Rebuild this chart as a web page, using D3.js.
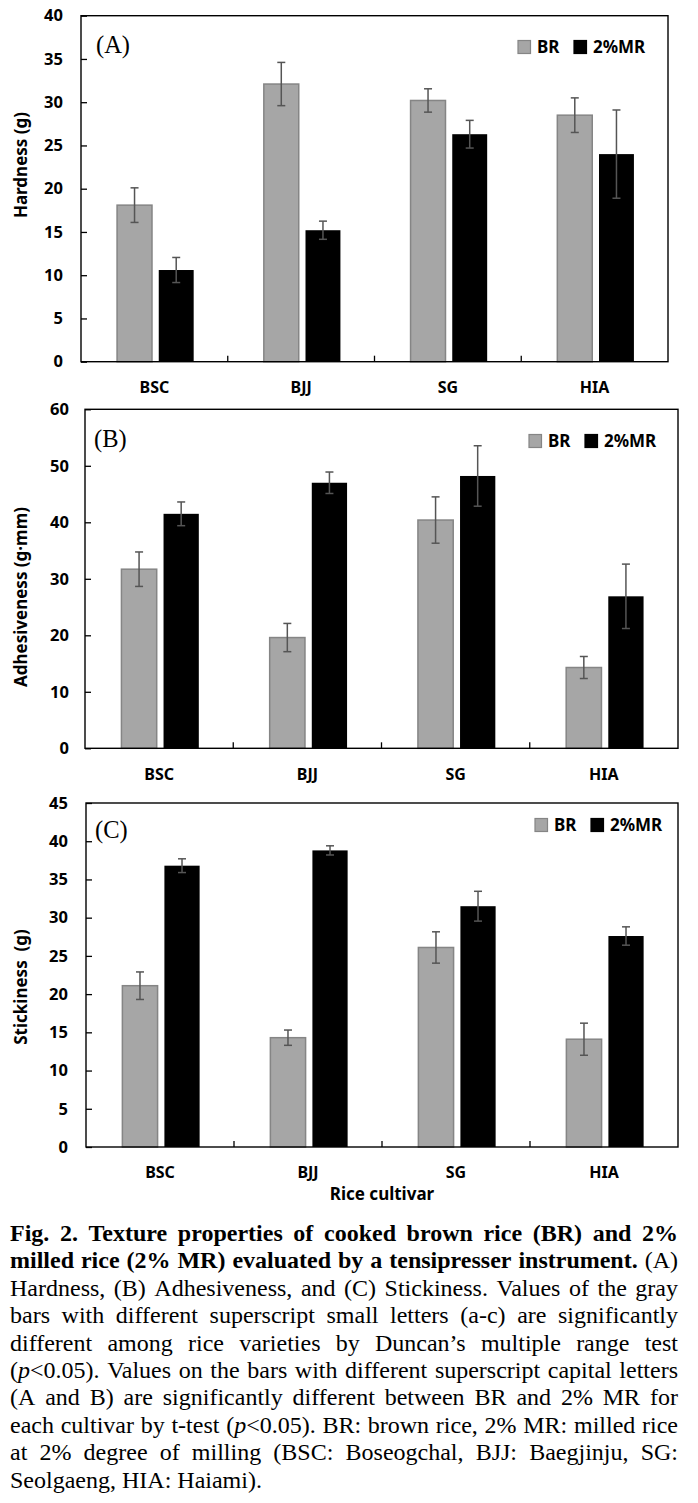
<!DOCTYPE html>
<html>
<head>
<meta charset="utf-8">
<script src="https://cdn.jsdelivr.net/npm/d3@7/dist/d3.min.js"></script>
<style>
  html, body { margin: 0; padding: 0; background: #fff; }
  svg { display: block; }
</style>
</head>
<body>
<svg id="chart" width="698" height="1503"></svg>
<script>
// ---------------- DATA ----------------
const categories = ["BSC", "BJJ", "SG", "HIA"];
const seriesNames = ["BR", "2%MR"];

const hardnessBR     = [18.1, 32.1, 30.2, 28.5];
const hardnessBRErr  = [2.0, 2.5, 1.35, 2.0];
const hardnessMR     = [10.6, 15.2, 26.3, 24.0];
const hardnessMRErr  = [1.45, 1.05, 1.6, 5.1];
const hardnessTicks  = [0, 5, 10, 15, 20, 25, 30, 35, 40];

const adhesBR        = [31.7, 19.6, 40.4, 14.3];
const adhesBRErr     = [3.05, 2.5, 4.1, 1.95];
const adhesMR        = [41.5, 47.0, 48.2, 26.9];
const adhesMRErr     = [2.1, 1.9, 5.35, 5.7];
const adhesTicks     = [0, 10, 20, 30, 40, 50, 60];

const stickBR        = [21.1, 14.3, 26.1, 14.1];
const stickBRErr     = [1.8, 1.0, 2.05, 2.1];
const stickMR        = [36.8, 38.8, 31.5, 27.6];
const stickMRErr     = [0.9, 0.6, 1.95, 1.2];
const stickTicks     = [0, 5, 10, 15, 20, 25, 30, 35, 40, 45];

const panelLetters = ["(A)", "(B)", "(C)"];
const yTitles = ["Hardness (g)", "Adhesiveness (g\u00B7mm)", "Stickiness  (g)"];
const xTitle = "Rice cultivar";

const captionLines = [
  "**Fig. 2. Texture properties of cooked brown rice (BR) and 2%**",
  "**milled rice (2% MR) evaluated by a tensipresser instrument.** (A)",
  "Hardness, (B) Adhesiveness, and (C) Stickiness. Values of the gray",
  "bars with different superscript small letters (a-c) are significantly",
  "different among rice varieties by Duncan\u2019s multiple range test",
  "(_p_<0.05). Values on the bars with different superscript capital letters",
  "(A and B) are significantly different between BR and 2% MR for",
  "each cultivar by t-test (_p_<0.05). BR: brown rice, 2% MR: milled rice",
  "at 2% degree of milling (BSC: Boseogchal, BJJ: Baegjinju, SG:",
  "Seolgaeng, HIA: Haiami)."
];

// ---------------- LAYOUT ----------------
const svg = d3.select("#chart");
svg.append("rect").attr("width", 698).attr("height", 1503).attr("fill", "#fff");

const SANS = "'Noto Sans', 'Open Sans', Arial, sans-serif";
const SERIF = "'Liberation Serif', 'Times New Roman', serif";
const BR_FILL = "#a6a6a6", BR_STROKE = "#858585", MR_FILL = "#000", ERR = "#555";

const panels = [
  { left: 81, right: 668, top: 15.7, bottom: 361.7, max: 40, ticks: hardnessTicks,
    br: hardnessBR, brErr: hardnessBRErr, mr: hardnessMR, mrErr: hardnessMRErr,
    tickPad: 18, titleY: 165, legendEnd: 650, legendY: 47, letterX: 96, letterY: 53 },
  { left: 85, right: 678, top: 409.3, bottom: 748.3, max: 60, ticks: adhesTicks,
    br: adhesBR, brErr: adhesBRErr, mr: adhesMR, mrErr: adhesMRErr,
    tickPad: 16, titleY: 597, legendEnd: 661, legendY: 441, letterX: 94, letterY: 447 },
  { left: 86, right: 678, top: 803, bottom: 1147, max: 45, ticks: stickTicks,
    br: stickBR, brErr: stickBRErr, mr: stickMR, mrErr: stickMRErr,
    tickPad: 18, titleY: 987, legendEnd: 667, legendY: 825, letterX: 95, letterY: 838 }
];

panels.forEach((p, i) => {
  const g = svg.append("g");
  const x = d3.scaleBand().domain(categories).range([p.left, p.right]);
  const y = d3.scaleLinear().domain([0, p.max]).range([p.bottom, p.top]);
  const band = x.bandwidth();
  const barW = band * 0.238;
  const gap = band * 0.046;

  // bars
  const rows = categories.map((c, k) => ({ c, br: p.br[k], brE: p.brErr[k], mr: p.mr[k], mrE: p.mrErr[k] }));
  const brX = d => x(d.c) + band / 2 + 1 - gap / 2 - barW;
  const mrX = d => x(d.c) + band / 2 + 1 + gap / 2;

  g.selectAll(".br").data(rows).join("rect")
    .attr("x", brX).attr("width", barW)
    .attr("y", d => y(d.br)).attr("height", d => y(0) - y(d.br))
    .attr("fill", BR_FILL).attr("stroke", BR_STROKE).attr("stroke-width", 1.5);
  g.selectAll(".mr").data(rows).join("rect")
    .attr("x", mrX).attr("width", barW)
    .attr("y", d => y(d.mr)).attr("height", d => y(0) - y(d.mr))
    .attr("fill", MR_FILL);

  // error bars
  const errs = [];
  rows.forEach(d => {
    errs.push({ cx: brX(d) + barW / 2, v: d.br, e: d.brE });
    errs.push({ cx: mrX(d) + barW / 2, v: d.mr, e: d.mrE });
  });
  const eg = g.selectAll(".err").data(errs).join("g")
    .attr("stroke", ERR).attr("stroke-width", 1.5).attr("fill", "none");
  eg.append("line").attr("x1", d => d.cx).attr("x2", d => d.cx)
    .attr("y1", d => y(d.v + d.e)).attr("y2", d => y(d.v - d.e));
  eg.append("line").attr("x1", d => d.cx - 4).attr("x2", d => d.cx + 4)
    .attr("y1", d => y(d.v + d.e)).attr("y2", d => y(d.v + d.e));
  eg.append("line").attr("x1", d => d.cx - 4).attr("x2", d => d.cx + 4)
    .attr("y1", d => y(d.v - d.e)).attr("y2", d => y(d.v - d.e));

  // frame
  g.append("rect").attr("x", p.left).attr("y", p.top)
    .attr("width", p.right - p.left).attr("height", p.bottom - p.top)
    .attr("fill", "none").attr("stroke", "#000").attr("stroke-width", 1.4);

  // y axis
  const ya = g.append("g").attr("transform", `translate(${p.left},0)`)
    .call(d3.axisLeft(y).tickValues(p.ticks).tickSize(-6).tickPadding(p.tickPad).tickFormat(d3.format("d")));
  ya.select(".domain").remove();
  ya.selectAll(".tick line").attr("stroke", "#000").attr("stroke-width", 1.3);
  ya.selectAll("text").attr("font-family", SANS).attr("font-weight", 700).attr("font-size", 16.5).attr("fill", "#000");

  // x axis (category labels)
  const xa = g.append("g").attr("transform", `translate(0,${p.bottom})`)
    .call(d3.axisBottom(x).tickSize(0).tickPadding(20));
  xa.select(".domain").remove();
  xa.selectAll("text").attr("font-family", SANS).attr("font-weight", 700).attr("font-size", 16).attr("fill", "#000");

  // x ticks between categories (inside)
  g.selectAll(".xt").data(categories.slice(1)).join("line")
    .attr("x1", d => x(d)).attr("x2", d => x(d))
    .attr("y1", p.bottom).attr("y2", p.bottom - 6)
    .attr("stroke", "#000").attr("stroke-width", 1.3);

  // y title
  g.append("text").attr("transform", `translate(20,${p.titleY}) rotate(-90)`)
    .attr("text-anchor", "middle").attr("dominant-baseline", "central")
    .attr("font-family", SANS).attr("font-weight", 700).attr("font-size", 17)
    .style("white-space", "pre")
    .text(yTitles[i]);

  // panel letter
  g.append("text").attr("x", p.letterX).attr("y", p.letterY)
    .attr("font-family", SERIF).attr("font-size", 24.5).text(panelLetters[i]);

  // legend
  const lx = p.legendEnd - 132;
  const leg = g.append("g").attr("transform", `translate(${lx},${p.legendY})`);
  const legItems = [
    { name: seriesNames[0], fill: BR_FILL, stroke: BR_STROKE, dx: 0 },
    { name: seriesNames[1], fill: MR_FILL, stroke: MR_FILL, dx: 56 }
  ];
  legItems.forEach(it => {
    leg.append("rect").attr("x", it.dx).attr("y", -6.5).attr("width", 12.5).attr("height", 13)
      .attr("fill", it.fill).attr("stroke", it.stroke).attr("stroke-width", 1.2);
    leg.append("text").attr("x", it.dx + 19).attr("y", 0).attr("dy", "0.36em")
      .attr("font-family", SANS).attr("font-weight", 700).attr("font-size", 17).text(it.name);
  });
});

// x title
svg.append("text").attr("x", 382).attr("y", 1194).attr("dy", "0.36em")
  .attr("text-anchor", "middle").attr("font-family", SANS).attr("font-weight", 700)
  .attr("font-size", 17).text(xTitle);

// ---------------- CAPTION ----------------
function parseRuns(str) {
  const runs = [];
  const re = /(\*\*[^*]+\*\*|_[^_]+_)/g;
  let last = 0, m;
  while ((m = re.exec(str)) !== null) {
    if (m.index > last) runs.push({ t: str.slice(last, m.index), s: "" });
    const tok = m[0];
    if (tok.startsWith("**")) runs.push({ t: tok.slice(2, -2), s: "b" });
    else runs.push({ t: tok.slice(1, -1), s: "i" });
    last = re.lastIndex;
  }
  if (last < str.length) runs.push({ t: str.slice(last), s: "" });
  return runs;
}
function toWords(runs) {
  const words = [];
  let cur = [];
  runs.forEach(r => {
    const parts = r.t.split(" ");
    parts.forEach((part, pi) => {
      if (pi > 0) { if (cur.length) words.push(cur); cur = []; }
      if (part.length) cur.push({ t: part, s: r.s });
    });
  });
  if (cur.length) words.push(cur);
  return words;
}

const capLeft = 10, capRight = 678, capTop = 1241, capLH = 27.4, capFS = 24;
const cap = svg.append("g").attr("font-family", SERIF).attr("font-size", capFS).attr("fill", "#000");
captionLines.forEach((line, li) => {
  const words = toWords(parseRuns(line));
  const yy = capTop + li * capLH;
  const nodes = words.map(w => {
    const t = cap.append("text").attr("y", yy);
    w.forEach(r => {
      t.append("tspan").text(r.t)
        .attr("font-weight", r.s === "b" ? 700 : 400)
        .attr("font-style", r.s === "i" ? "italic" : "normal");
    });
    return t;
  });
  const widths = nodes.map(n => n.node().getComputedTextLength());
  const total = d3.sum(widths);
  const justify = li < captionLines.length - 1;
  const gapW = justify ? (capRight - capLeft - total) / (words.length - 1) : capFS * 0.25;
  let xx = capLeft;
  nodes.forEach((n, k) => { n.attr("x", xx); xx += widths[k] + gapW; });
});
</script>
</body>
</html>
